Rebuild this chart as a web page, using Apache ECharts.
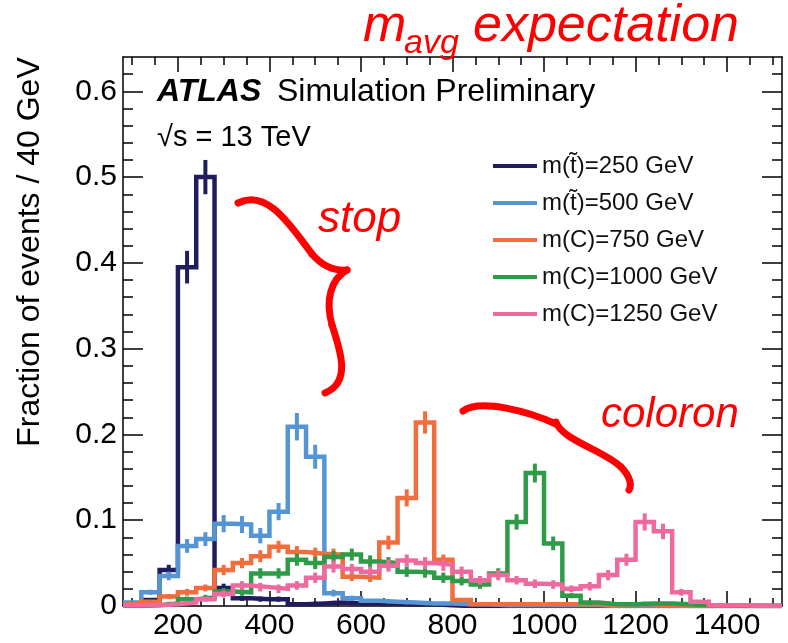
<!DOCTYPE html>
<html>
<head>
<meta charset="utf-8">
<script src="https://cdn.jsdelivr.net/npm/echarts@6/dist/echarts.min.js"></script>
<style>
  html, body { margin: 0; padding: 0; background: #ffffff; }
  #chart { width: 788px; height: 643px; }
</style>
</head>
<body>
<div id="chart"></div>
<script>
// Bin edges (GeV), 40 GeV wide bins
const binEdges = [80, 120, 160, 200, 240, 280, 320, 360, 400, 440, 480, 520, 560, 600,
  640, 680, 720, 760, 800, 840, 880, 920, 960, 1000, 1040, 1080, 1120, 1160, 1200,
  1240, 1280, 1320, 1360, 1400, 1440, 1480, 1520];

// Tick labels
const xTickLabels = [200, 400, 600, 800, 1000, 1200, 1400];
const yTickLabels = [0, 0.1, 0.2, 0.3, 0.4, 0.5, 0.6];

// Series names
const seriesNames = ['m(t\u0303)=250 GeV', 'm(t\u0303)=500 GeV', 'm(C)=750 GeV', 'm(C)=1000 GeV', 'm(C)=1250 GeV'];
const seriesColors = ['#1f1d5e', '#5595d3', '#f26d3d', '#2f9b48', '#ee6a9e'];

// Fraction of events per bin
const stop250 = [0.001, 0.007, 0.042, 0.395, 0.500, 0.021, 0.009, 0.008, 0.008, 0.002,
  0.003, 0.004, 0.003, 0.003, 0.003, 0.002, 0.002, 0.001, 0, 0,
  0, 0, 0, 0, 0, 0, 0, 0, 0, 0,
  0, 0, 0, 0, 0, 0];
const stop500 = [0.004, 0.016, 0.035, 0.070, 0.078, 0.096, 0.095, 0.082, 0.110, 0.209,
  0.174, 0.015, 0.009, 0.006, 0.005, 0.004, 0.003, 0.003, 0.002, 0.002,
  0.001, 0.001, 0.001, 0.001, 0.001, 0.001, 0, 0, 0, 0,
  0, 0, 0, 0, 0, 0];
const coloron750 = [0.002, 0.005, 0.011, 0.016, 0.021, 0.042, 0.050, 0.058, 0.069, 0.063,
  0.061, 0.060, 0.034, 0.033, 0.074, 0.126, 0.214, 0.054, 0.007, 0.002,
  0.002, 0.002, 0.002, 0.002, 0.002, 0.002, 0.001, 0.002, 0.002, 0.001,
  0, 0, 0, 0, 0, 0];
const coloron1000 = [0, 0.001, 0.003, 0.008, 0.010, 0.017, 0.016, 0.038, 0.038, 0.054,
  0.050, 0.057, 0.060, 0.052, 0.050, 0.040, 0.039, 0.033, 0.029, 0.025,
  0.038, 0.098, 0.155, 0.073, 0.012, 0.004, 0.002, 0.002, 0.003, 0.003,
  0.002, 0.001, 0.001, 0, 0, 0];
const coloron1250 = [0.001, 0.001, 0.002, 0.004, 0.008, 0.014, 0.024, 0.022, 0.020, 0.024,
  0.033, 0.046, 0.043, 0.040, 0.047, 0.053, 0.050, 0.048, 0.040, 0.030,
  0.036, 0.030, 0.026, 0.025, 0.020, 0.023, 0.036, 0.054, 0.098, 0.087,
  0.016, 0.005, 0.001, 0.001, 0, 0];

// Statistical uncertainty per bin
const stop250Err = [0.001, 0.002, 0.006, 0.019, 0.020, 0.005, 0.003, 0.003, 0.003, 0.001,
  0.002, 0.002, 0.002, 0.002, 0.002, 0.001, 0.001, 0.001, 0, 0,
  0, 0, 0, 0, 0, 0, 0, 0, 0, 0,
  0, 0, 0, 0, 0, 0];
const stop500Err = [0.001, 0.003, 0.005, 0.008, 0.008, 0.010, 0.010, 0.009, 0.010, 0.016,
  0.014, 0.004, 0.003, 0.002, 0.002, 0.002, 0.002, 0.002, 0.001, 0.001,
  0.001, 0.001, 0.001, 0.001, 0.001, 0.001, 0, 0, 0, 0,
  0, 0, 0, 0, 0, 0];
const coloron750Err = [0.001, 0.002, 0.003, 0.004, 0.004, 0.006, 0.006, 0.007, 0.007, 0.007,
  0.007, 0.007, 0.005, 0.005, 0.008, 0.010, 0.013, 0.006, 0.002, 0.001,
  0.001, 0.001, 0.001, 0.001, 0.001, 0.001, 0.001, 0.001, 0.001, 0.001,
  0, 0, 0, 0, 0, 0];
const coloron1000Err = [0, 0.001, 0.002, 0.003, 0.003, 0.004, 0.004, 0.006, 0.006, 0.007,
  0.007, 0.007, 0.007, 0.007, 0.007, 0.006, 0.006, 0.006, 0.005, 0.005,
  0.006, 0.009, 0.011, 0.008, 0.003, 0.002, 0.001, 0.001, 0.002, 0.002,
  0.001, 0.001, 0.001, 0, 0, 0];
const coloron1250Err = [0.001, 0.001, 0.001, 0.002, 0.003, 0.004, 0.005, 0.005, 0.005, 0.005,
  0.006, 0.007, 0.006, 0.006, 0.007, 0.007, 0.007, 0.007, 0.006, 0.005,
  0.006, 0.005, 0.005, 0.005, 0.004, 0.005, 0.006, 0.007, 0.010, 0.009,
  0.004, 0.002, 0.001, 0.001, 0, 0];

const seriesValues = [stop250, stop500, coloron750, coloron1000, coloron1250];
const seriesErrors = [stop250Err, stop500Err, coloron750Err, coloron1000Err, coloron1250Err];

const FONT = '"Liberation Sans", Arial, Helvetica, sans-serif';
const X_MIN = 80, X_MAX = 1520, Y_MIN = 0, Y_MAX = 0.64;

// minor tick positions (every 50 GeV / every 0.02)
const xMinor = [];
for (let v = 100; v < X_MAX; v += 50) if (v % 200 !== 0) xMinor.push(v);
const yMinor = [];
for (let i = 1; i * 0.02 < Y_MAX; i++) if (i % 5 !== 0) yMinor.push(+(i * 0.02).toFixed(2));

function tickAxis(kind, position, values, length, withLine, withLabels) {
  const ax = {
    type: 'value', position: position,
    min: kind === 'x' ? X_MIN : Y_MIN, max: kind === 'x' ? X_MAX : Y_MAX,
    axisLine: { show: withLine, onZero: false, lineStyle: { color: '#000', width: 1.5 } },
    axisTick: { show: true, inside: true, length: length, customValues: values,
      lineStyle: { color: '#000', width: 1.5 } },
    splitLine: { show: false },
    axisLabel: { show: false }
  };
  if (withLabels) {
    ax.axisLabel = {
      show: true, customValues: values, fontSize: 30, color: '#000', fontFamily: FONT,
      margin: kind === 'x' ? 5 : 6,
      formatter: kind === 'x' ? (v => String(v)) : (v => (v === 0 ? '0' : v.toFixed(1)))
    };
  }
  return ax;
}

// step outline: one point per bin lower edge plus the final upper edge
function stepData(values) {
  const d = values.map((v, i) => [binEdges[i], v]);
  d.push([binEdges[binEdges.length - 1], values[values.length - 1]]);
  return d;
}
function errData(values, errs) {
  return values.map((v, i) => [(binEdges[i] + binEdges[i + 1]) / 2, v, errs[i]]);
}

const series = [];
seriesNames.forEach((name, k) => {
  const color = seriesColors[k];
  series.push({
    name: name, type: 'line', step: 'end', data: stepData(seriesValues[k]),
    showSymbol: false, symbol: 'none', color: color,
    lineStyle: { color: color, width: 4.5, join: 'miter', cap: 'butt' },
    z: 10 + k * 2, animation: false
  });
  series.push({
    name: name + ' err', type: 'custom', data: errData(seriesValues[k], seriesErrors[k]),
    z: 11 + k * 2, animation: false, clip: true,
    renderItem: function (params, api) {
      const x = api.value(0), y = api.value(1), e = api.value(2);
      if (!(e > 0)) return null;
      const p1 = api.coord([x, y - e]);
      const p2 = api.coord([x, y + e]);
      return { type: 'line', shape: { x1: p1[0], y1: p1[1], x2: p2[0], y2: p2[1] },
        style: { stroke: color, lineWidth: 4 } };
    }
  });
});

const red = '#ff0000';
function redText(text, x, y, size) {
  return { type: 'text', x: x, y: y, z: 100,
    style: { text: text, fill: red, font: 'italic ' + size + 'px ' + FONT,
      align: 'left', verticalAlign: 'middle', textAlign: 'left', textVerticalAlign: 'middle' } };
}
function blackText(text, x, y, font) {
  return { type: 'text', x: x, y: y, z: 100,
    style: { text: text, fill: '#000', font: font,
      align: 'left', verticalAlign: 'middle', textAlign: 'left', textVerticalAlign: 'middle' } };
}
function brace(x1, y1, c1x, c1y, c2x, c2y, x2, y2) {
  return { type: 'bezierCurve', z: 90,
    shape: { x1: x1, y1: y1, cpx1: c1x, cpy1: c1y, cpx2: c2x, cpy2: c2y, x2: x2, y2: y2 },
    style: { stroke: red, lineWidth: 7, fill: null, lineCap: 'round' } };
}

const option = {
  animation: false,
  backgroundColor: '#ffffff',
  grid: { left: 123, top: 57, width: 659, height: 549 },
  xAxis: [
    tickAxis('x', 'bottom', xTickLabels, 15, true, true),
    tickAxis('x', 'bottom', xMinor, 8, false, false),
    tickAxis('x', 'top', xTickLabels, 15, true, false),
    tickAxis('x', 'top', xMinor, 8, false, false)
  ],
  yAxis: [
    tickAxis('y', 'left', yTickLabels, 20, true, true),
    tickAxis('y', 'left', yMinor, 10, false, false),
    tickAxis('y', 'right', yTickLabels, 20, true, false),
    tickAxis('y', 'right', yMinor, 10, false, false)
  ],
  legend: {
    data: seriesNames, orient: 'vertical', left: 488, top: 148,
    itemWidth: 44, itemHeight: 4, itemGap: 11, icon: 'rect', selectedMode: false,
    textStyle: { fontSize: 24, color: '#111', fontFamily: FONT, lineHeight: 26 }
  },
  series: series,
  graphic: [
    { type: 'text', x: 30, y: 252, rotation: Math.PI / 2, z: 100,
      style: { text: 'Fraction of events / 40 GeV', fill: '#000', font: '32px ' + FONT,
        align: 'center', verticalAlign: 'middle', textAlign: 'center', textVerticalAlign: 'middle' } },
    blackText('ATLAS', 157, 92, 'italic bold 32px ' + FONT),
    blackText('Simulation Preliminary', 277, 92, '32px ' + FONT),
    blackText('\u221As = 13 TeV', 157, 138, '29px ' + FONT),
    redText('m', 363, 27, 52),
    redText('avg', 404, 44, 34),
    redText('expectation', 473, 27, 52),
    redText('stop', 318, 220, 44),
    redText('coloron', 601, 415, 42),
    // stop brace
    brace(238, 203, 268, 188, 292, 228, 312, 254),
    brace(312, 254, 324, 268, 336, 271, 347, 270),
    brace(347, 270, 331, 279, 325, 300, 332, 325),
    brace(332, 325, 340, 350, 352, 382, 325, 393),
    // coloron brace
    brace(463, 411, 480, 398, 530, 412, 556, 424),
    brace(556, 422, 562, 440, 603, 450, 621, 467),
    brace(621, 467, 630, 476, 632, 485, 629, 490)
  ]
};

const chart = echarts.init(document.getElementById('chart'), null, { renderer: 'canvas' });
chart.setOption(option);
</script>
</body>
</html>
